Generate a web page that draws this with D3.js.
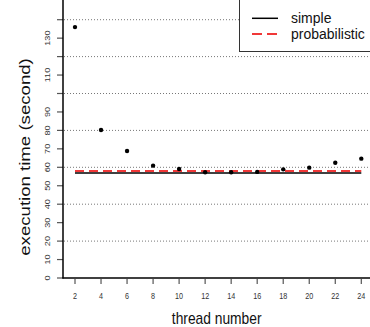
<!DOCTYPE html>
<html>
<head>
<meta charset="utf-8">
<script src="https://cdn.jsdelivr.net/npm/d3@7"></script>
<style>
  body { margin: 0; background: #fff; }
  text { font-family: 'Liberation Sans', Arial, sans-serif; fill: #111; }
</style>
</head>
<body>
<div id="display"></div>
<script>
// thread counts and measured execution times (seconds)
const threads = [2, 4, 6, 8, 10, 12, 14, 16, 18, 20, 22, 24];
const times = [136, 80.2, 68.8, 60.9, 59.1, 57.3, 57.3, 57.5, 58.9, 59.8, 62.5, 64.7];
const simpleTime = 56.9;
const probTime = 58.0;
const yTicks = [0, 10, 20, 30, 40, 50, 60, 70, 80, 90, 100, 110, 120, 130, 140];
const yLabels = [0, 10, 20, 30, 40, 50, 60, 70, 80, 90, 110, 130];
const gridVals = [20, 40, 60, 80, 100, 120, 140];
const legendNames = ['simple', 'probabilistic'];

const W = 370, H = 327;
const stretch = 1.3; // text in the picture is stretched vertically
const hStretch = 1.2;

const svg = d3.select('#display').append('svg')
    .attr('width', W)
    .attr('height', H);

const x = d3.scaleLinear().domain([2, 24]).range([75, 361.3]);
const y = d3.scaleLinear().domain([0, 140]).range([278, 19.7]);
const left = 63;

// dotted grid
svg.append('g')
    .selectAll('line')
    .data(gridVals)
    .enter()
    .append('line')
    .attr('x1', left + 1)
    .attr('x2', W)
    .attr('y1', (d) => y(d))
    .attr('y2', (d) => y(d))
    .attr('stroke', '#777')
    .attr('stroke-width', 1)
    .attr('stroke-dasharray', '1,2');

// y axis ticks + labels
svg.append('g')
    .selectAll('line')
    .data(yTicks)
    .enter()
    .append('line')
    .attr('x1', 57)
    .attr('x2', left)
    .attr('y1', (d) => y(d))
    .attr('y2', (d) => y(d))
    .attr('stroke', '#555')
    .attr('stroke-width', 1.2);

svg.append('g')
    .selectAll('text')
    .data(yLabels)
    .enter()
    .append('text')
    .attr('transform', (d) => 'translate(49.5,' + y(d) + ') rotate(-90) scale(' + stretch + ',1)')
    .attr('text-anchor', 'middle')
    .style('font-size', '7px')
    .style('fill', '#333')
    .text((d) => d);

// x axis ticks + labels
svg.append('g')
    .selectAll('line')
    .data(threads)
    .enter()
    .append('line')
    .attr('x1', (d) => x(d))
    .attr('x2', (d) => x(d))
    .attr('y1', 279)
    .attr('y2', 284)
    .attr('stroke', '#555')
    .attr('stroke-width', 1.2);

svg.append('g')
    .selectAll('text')
    .data(threads)
    .enter()
    .append('text')
    .attr('transform', (d) => 'translate(' + x(d) + ',298.7) scale(1,' + hStretch + ')')
    .attr('text-anchor', 'middle')
    .style('font-size', '7.2px')
    .style('fill', '#333')
    .text((d) => d);

// box lines (left + bottom)
svg.append('line')
    .attr('x1', left).attr('x2', left)
    .attr('y1', 0).attr('y2', 278.5)
    .attr('stroke', '#000').attr('stroke-width', 1.5);
svg.append('line')
    .attr('x1', left - 0.5).attr('x2', W)
    .attr('y1', 278).attr('y2', 278)
    .attr('stroke', '#000').attr('stroke-width', 1.5);

// reference lines
svg.append('line')
    .attr('x1', x(2)).attr('x2', x(24))
    .attr('y1', y(simpleTime)).attr('y2', y(simpleTime))
    .attr('stroke', '#000').attr('stroke-width', 1.5);
svg.append('line')
    .attr('x1', x(2)).attr('x2', x(24))
    .attr('y1', y(probTime)).attr('y2', y(probTime))
    .attr('stroke', '#f03838').attr('stroke-width', 2.2)
    .attr('stroke-dasharray', '9,5');

// points
svg.append('g')
    .selectAll('circle')
    .data(threads)
    .enter()
    .append('circle')
    .attr('cx', (d) => x(d))
    .attr('cy', (d, i) => y(times[i]))
    .attr('r', 2.2)
    .style('fill', '#000');

// axis titles
svg.append('text')
    .attr('transform', 'translate(216.7,323.5) scale(1,' + hStretch + ')')
    .attr('text-anchor', 'middle')
    .style('font-size', '13.8px')
    .text('thread number');

svg.append('text')
    .attr('transform', 'translate(29.5,157) rotate(-90) scale(1.35,1)')
    .attr('text-anchor', 'middle')
    .style('font-size', '13.8px')
    .text('execution time (second)');

// legend
const legend = svg.append('g');
legend.append('rect')
    .attr('x', 239.5).attr('y', -5)
    .attr('width', 140).attr('height', 56.5)
    .attr('fill', '#fff')
    .attr('stroke', '#333')
    .attr('stroke-width', 1);

const legY = [18.3, 34];
legend.append('line')
    .attr('x1', 252).attr('x2', 278)
    .attr('y1', legY[0]).attr('y2', legY[0])
    .attr('stroke', '#000').attr('stroke-width', 1.5);
legend.append('line')
    .attr('x1', 252).attr('x2', 278)
    .attr('y1', legY[1]).attr('y2', legY[1])
    .attr('stroke', '#f03838').attr('stroke-width', 2)
    .attr('stroke-dasharray', '10,5');

legend.selectAll('text')
    .data(legendNames)
    .enter()
    .append('text')
    .attr('transform', (d, i) => 'translate(291,' + (legY[i] + 5) + ') scale(1,1.1)')
    .style('font-size', '14px')
    .text((d) => d);
</script>
</body>
</html>
